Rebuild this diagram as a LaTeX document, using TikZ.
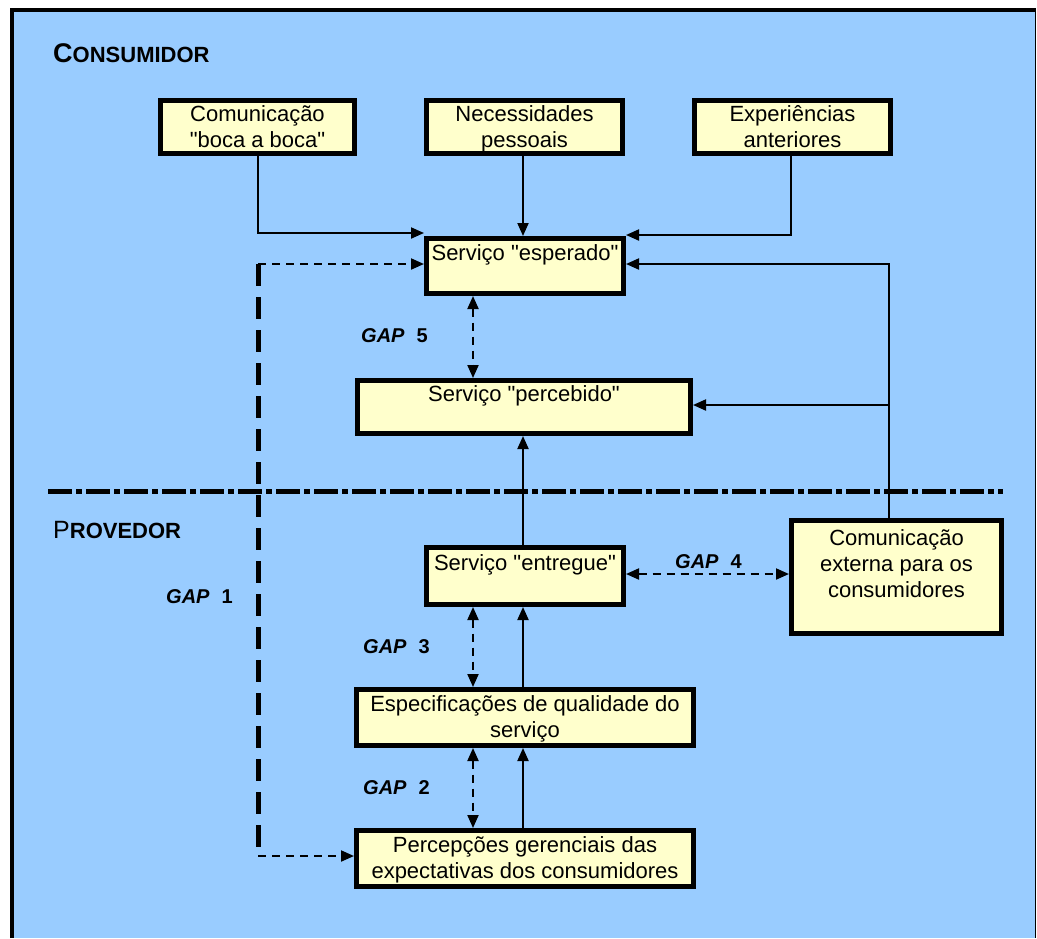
\documentclass[tikz,border=0pt]{standalone}
\usepackage{fontspec}
\setmainfont{Liberation Sans}[Ligatures=TeXOff]
\usetikzlibrary{arrows.meta,calc}
\definecolor{bgblue}{HTML}{99CCFF}
\definecolor{boxyel}{HTML}{FFFFCC}
\newcommand\ls{\rule[-6pt]{0pt}{26pt}}
\begin{document}
\begin{tikzpicture}[x=1pt,y=-1pt,
  box/.style={draw, line width=5pt, fill=boxyel, inner sep=0pt, align=center, font=\fontsize{22}{26}\selectfont},
  tip/.tip={Triangle[length=13pt,width=11pt]},
  conn/.style={line width=2pt, -tip},
  dconn/.style={line width=2pt, dash pattern=on 8pt off 6pt, tip-tip},
  dsconn/.style={line width=2pt, dash pattern=on 8pt off 6pt, -tip},
  gaplabel/.style={font=\fontsize{20}{24}\selectfont\bfseries, anchor=base west, inner sep=0pt},
  title/.style={anchor=base west, inner sep=0pt}
  ]
\useasboundingbox (0,0) rectangle (1037,938);
% frame
\fill[white] (0,0) rectangle (1037,938);
\fill[bgblue] (12,10) rectangle (1036,938);
\draw[line width=4pt] (12,938) -- (12,10) -- (1036,10);
\draw[line width=1pt] (1035.5,10) -- (1035.5,938);

% titles
\node[title] (cons) at (53,62) {\bfseries\fontsize{27}{30}\selectfont C\fontsize{22}{26}\selectfont ONSUMIDOR};
\node[title] (prov) at (53,538) {\fontsize{25}{30}\selectfont P\bfseries\fontsize{22}{26}\selectfont ROVEDOR};

% divider
\coordinate (dl) at (48,491);
\coordinate (dr) at (1003,491);
\draw[line width=5pt, dash pattern=on 24pt off 4pt on 6pt off 4pt] (dl) -- (dr);

% boxes
\node[box, minimum width=194pt, minimum height=53pt] (A) at (257.5,127) {\ls Comunicação\\\ls "boca a boca"};
\node[box, minimum width=196pt, minimum height=53pt] (B) at (524.5,127) {\ls Necessidades\\\ls pessoais};
\node[box, minimum width=196pt, minimum height=53pt] (C) at (792.5,127) {\ls Experiências\\\ls anteriores};
\node[box, minimum width=197pt, minimum height=55pt] (D) at (525,266) {\ls Serviço "esperado"\\\ls};
\node[box, minimum width=333pt, minimum height=53pt] (E) at (524,407) {\ls Serviço "percebido"\\\ls};
\node[box, minimum width=197pt, minimum height=57pt] (F) at (525,576) {\ls Serviço "entregue"\\\ls};
\node[box, minimum width=210pt, minimum height=113pt] (G) at (896.5,577) {\ls Comunicação\\\ls externa para os\\\ls consumidores\\\ls};
\node[box, minimum width=337pt, minimum height=56pt] (H) at (525,717.5) {\ls Especificações de qualidade do\\\ls serviço};
\node[box, minimum width=337pt, minimum height=56pt] (I) at (525,858.5) {\ls Percepções gerenciais das\\\ls expectativas dos consumidores};

% consumer inputs
\draw[conn] (A.south) |- ([yshift=3pt]D.north west);
\draw[conn] ([xshift=-1.5pt]B.south) -- ([xshift=-2pt]D.north);
\draw[conn] ([xshift=-1.5pt]C.south) |- ([yshift=1pt]D.north east);

% external communication
\coordinate (gt) at ([xshift=-7.5pt]G.north);
\draw[conn] (gt) |- ([yshift=2pt]D.east);
\draw[conn] (gt) |- ([yshift=2pt]E.east);

% delivered -> perceived, and upward flows
\draw[conn] ([xshift=-2pt]F.north) -- ([xshift=-2pt]F.north |- E.south);
\draw[conn] ([xshift=-2pt]H.north) -- ([xshift=-2pt]H.north |- F.south);
\draw[conn] ([xshift=-2pt]I.north) -- ([xshift=-2pt]I.north |- H.south);

% gaps
\draw[dconn] ([xshift=-52pt]D.south) -- ([xshift=-52pt]D.south |- E.north);
\draw[dconn] ([yshift=2pt]F.east) -- ([yshift=2pt]F.east -| G.west);
\draw[dconn] ([xshift=-52pt]F.south) -- ([xshift=-52pt]F.south |- H.north);
\draw[dconn] ([xshift=-52pt]H.south) -- ([xshift=-52pt]H.south |- I.north);

% gap 1
\coordinate (g1t) at (258,264);
\coordinate (g1b) at (258,856);
\draw[line width=5pt, dash pattern=on 22pt off 11pt] (g1t) -- (g1b);
\draw[dsconn] (g1t) -- (g1t -| D.west);
\draw[dsconn] (g1b) -- (g1b -| I.west);

% gap labels
\node[gaplabel] (gap5) at (361,342) {\textit{GAP}\hspace{12pt}5};
\node[gaplabel] (gap1) at (166,603) {\textit{GAP}\hspace{12pt}1};
\node[gaplabel] (gap4) at (675,568) {\textit{GAP}\hspace{12pt}4};
\node[gaplabel] (gap3) at (363,653) {\textit{GAP}\hspace{12pt}3};
\node[gaplabel] (gap2) at (363,794) {\textit{GAP}\hspace{12pt}2};
\end{tikzpicture}
\end{document}
